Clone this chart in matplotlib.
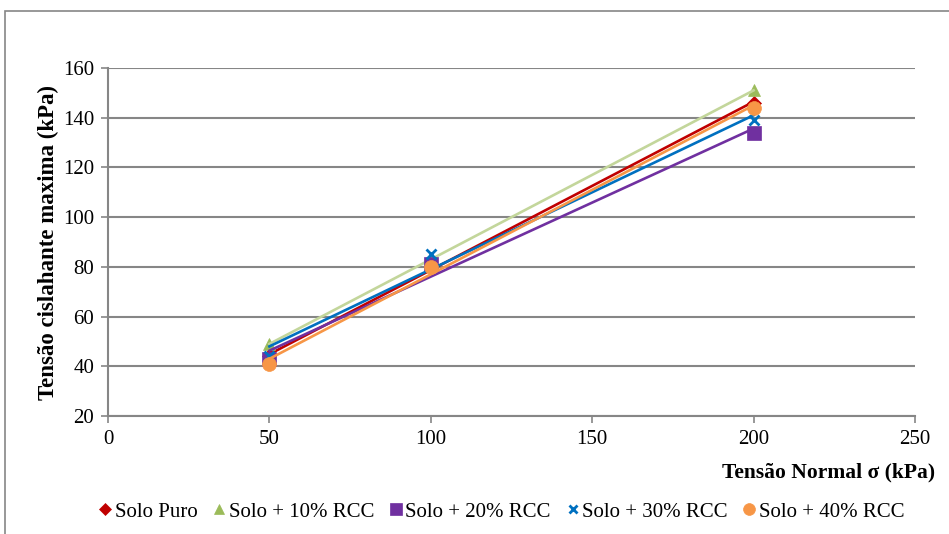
#!/usr/bin/env python3

import numpy as np
import matplotlib
from matplotlib import pyplot as plt
from matplotlib.patches import Rectangle

matplotlib.use("Agg")

plt.rcParams["font.family"] = ["Liberation Serif", "DejaVu Serif"]

# normal stress (kPa)
sigma = [50, 100, 200]

# max shear stress (kPa) per mixture
solo_puro = [44, 80, 146]
rcc10 = [49, 83, 151]
rcc20 = [43, 81, 134]
rcc30 = [44, 85, 139]
rcc40 = [41, 80, 144]

labels = ["Solo Puro", "Solo + 10% RCC", "Solo + 20% RCC", "Solo + 30% RCC", "Solo + 40% RCC"]
series = [solo_puro, rcc10, rcc20, rcc30, rcc40]

colors = ["#C00000", "#9BBB59", "#7030A0", "#0070C0", "#F79646"]
line_colors = ["#C00000", "#C3D69B", "#7030A0", "#0070C0", "#F79646"]
markers = ["D", "^", "s", "x", "o"]
msizes = [7, 9, 10, 7, 10]

fig = plt.figure(figsize=(9.49, 5.34), dpi=100)
ax = fig.add_axes([108 / 949, 118 / 534, 807 / 949, 348 / 534])

# chart border
fig.patches.append(Rectangle((5 / 949, -0.1), 1.2, (534 - 11) / 534 + 0.1,
                             transform=fig.transFigure, fill=False,
                             edgecolor="#868686", linewidth=1.2))

handles = []
for k, vals in enumerate(series):
    mew = 2 if markers[k] == "x" else 0.5
    h, = ax.plot(sigma, vals, linestyle="none", marker=markers[k], markersize=msizes[k],
                 color=colors[k], markeredgewidth=mew, zorder=3 + 2 * k, label=labels[k])
    handles.append(h)
    # linear trendline
    a, b = np.polyfit(sigma, vals, 1)
    xs = np.array([sigma[0], sigma[-1]])
    ax.plot(xs, a * xs + b, color=line_colors[k], linewidth=1.9, zorder=4 + 2 * k)

ax.set_xlim(0, 250)
ax.set_ylim(20, 160)
ax.set_xticks(range(0, 251, 50))
ax.set_yticks(range(20, 161, 20))
ax.grid(axis="y", color="#868686", linewidth=1.5)
ax.set_axisbelow(True)
for s in ["top", "right"]:
    ax.spines[s].set_visible(False)
for s in ["left", "bottom"]:
    ax.spines[s].set_color("#868686")
    ax.spines[s].set_linewidth(1.5)
ax.tick_params(direction="out", length=5, width=1.2, color="#868686", labelsize=15, pad=5)

ax.set_ylabel("Tensão cislahante maxima (kPa)", fontsize=16.5, fontweight="bold", labelpad=3)
fig.text(935 / 949, 1 - 472 / 534, "Tensão Normal σ (kPa)", fontsize=15.5, fontweight="bold",
         ha="right", va="center")

fig.legend(handles=handles, loc="center", bbox_to_anchor=(0.528, 1 - 512 / 534), ncol=5,
           frameon=False, fontsize=15, handlelength=0.7, handletextpad=0.1,
           columnspacing=0.7, markerscale=0.85)

plt.savefig("out.png", dpi=100)
print("Saved out.png")
